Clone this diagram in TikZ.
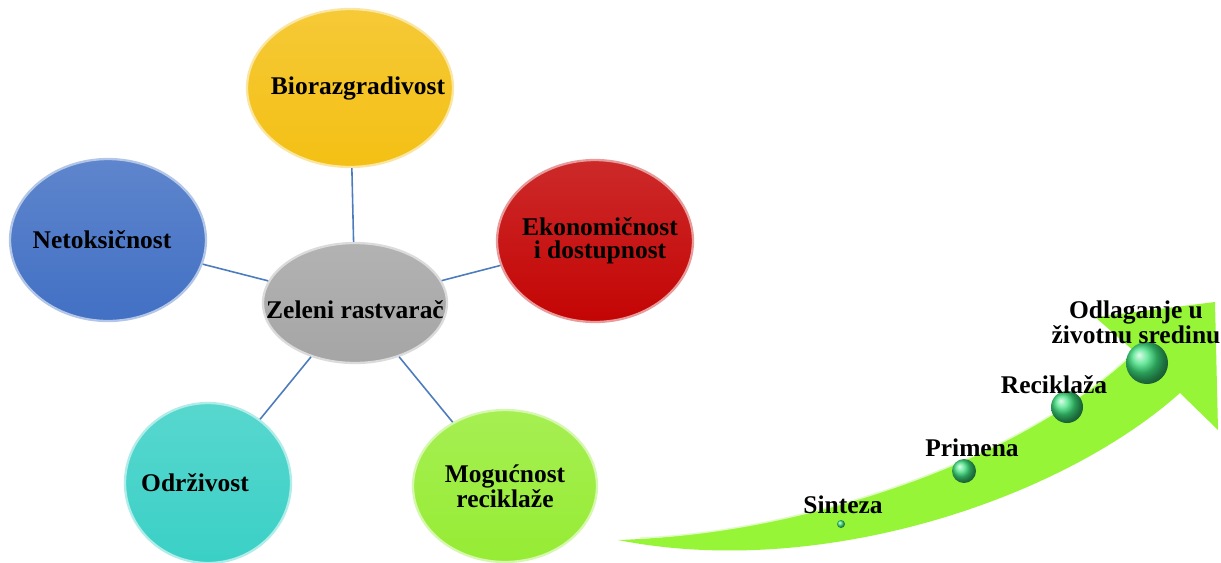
\documentclass[tikz,border=0pt]{standalone}
\usepackage{fontspec}
\setmainfont{Liberation Serif}
\usepackage{xcolor}
\usetikzlibrary{shapes.geometric, arrows.meta, positioning}

\definecolor{bioyellow}{RGB}{244,192,20}
\definecolor{netblue}{RGB}{66,112,196}
\definecolor{ekored}{RGB}{196,4,4}
\definecolor{zelgray}{RGB}{165,165,165}
\definecolor{odrteal}{RGB}{58,208,198}
\definecolor{mogugreen}{RGB}{150,236,52}
\definecolor{linkblue}{RGB}{76,124,190}
\definecolor{arrowgreen}{RGB}{150,245,55}
\definecolor{dotgreen}{RGB}{60,225,125}

\tikzset{
  bubble/.style={ellipse, draw=#1!40!white, line width=1.3pt,
    top color=#1!85!white, bottom color=#1, inner sep=0pt},
  bubbletext/.style={font=\fontsize{14.5}{13}\selectfont\bfseries,
    align=center, inner sep=0pt},
  link/.style={draw=linkblue, line width=0.9pt},
  stepdot/.style={circle, inner sep=0pt, shading=ball, ball color=dotgreen},
  steptext/.style={font=\fontsize{14.5}{13}\selectfont\bfseries,
    align=center, inner sep=0pt},
}

\begin{document}
\begin{tikzpicture}[x=0.02cm, y=-0.02cm]
\useasboundingbox (0,0) rectangle (1221,562);

% ellipses
\node[bubble=bioyellow, minimum width=4.12cm, minimum height=3.16cm,
  label={[bubbletext, xshift=0.16cm]center:Biorazgradivost}] (bio) at (350,88) {};
\node[bubble=netblue, minimum width=3.92cm, minimum height=3.24cm,
  label={[bubbletext, xshift=-0.12cm]center:Netoksičnost}] (net) at (108,240) {};
\node[bubble=ekored, minimum width=3.92cm, minimum height=3.24cm,
  label={[bubbletext, xshift=0.1cm]center:Ekonomičnost\\i dostupnost}] (eko) at (595,241) {};
\node[bubble=zelgray, minimum width=3.68cm, minimum height=2.4cm,
  label={[bubbletext, yshift=-0.14cm]center:Zeleni rastvarač}] (zel) at (355,303) {};
\node[bubble=odrteal, minimum width=3.32cm, minimum height=3.2cm,
  label={[bubbletext, xshift=-0.26cm]center:Održivost}] (odr) at (208,483) {};
\node[bubble=mogugreen, minimum width=3.68cm, minimum height=3.04cm,
  label={[bubbletext]center:Mogućnost\\reciklaže}] (mog) at (505,486) {};

\draw[link] (zel) -- (bio);
\draw[link] (zel) -- (net);
\draw[link] (zel) -- (eko);
\draw[link] (zel) -- (odr);
\draw[link] (zel) -- (mog);

% curved arrow
\fill[arrowgreen] (618,540) .. controls (780,535) and (1010,470) .. (1135,352)
  -- (1095,317) -- (1215,302) -- (1218,430) -- (1180,393)
  .. controls (1060,500) and (820,580) .. (618,540) -- cycle;
\draw[white!70!arrowgreen, line width=0.8pt] (640,538) .. controls (790,532) and (1010,468) .. (1130,356);

\node[stepdot, minimum size=0.16cm] (sin) at (841,524) {};
\node[stepdot, minimum size=0.48cm] (pri) at (964,471) {};
\node[stepdot, minimum size=0.64cm] (rec) at (1067,407) {};
\node[stepdot, minimum size=0.84cm] (odl) at (1147,363) {};

\node[steptext] (sintxt) at (843,505) {Sinteza};
\node[steptext] (pritxt) at (972,448) {Primena};
\node[steptext] (rectxt) at (1054,385) {Reciklaža};
\node[steptext] (odltxt) at (1136,322) {Odlaganje u\\životnu sredinu};
\end{tikzpicture}
\end{document}
